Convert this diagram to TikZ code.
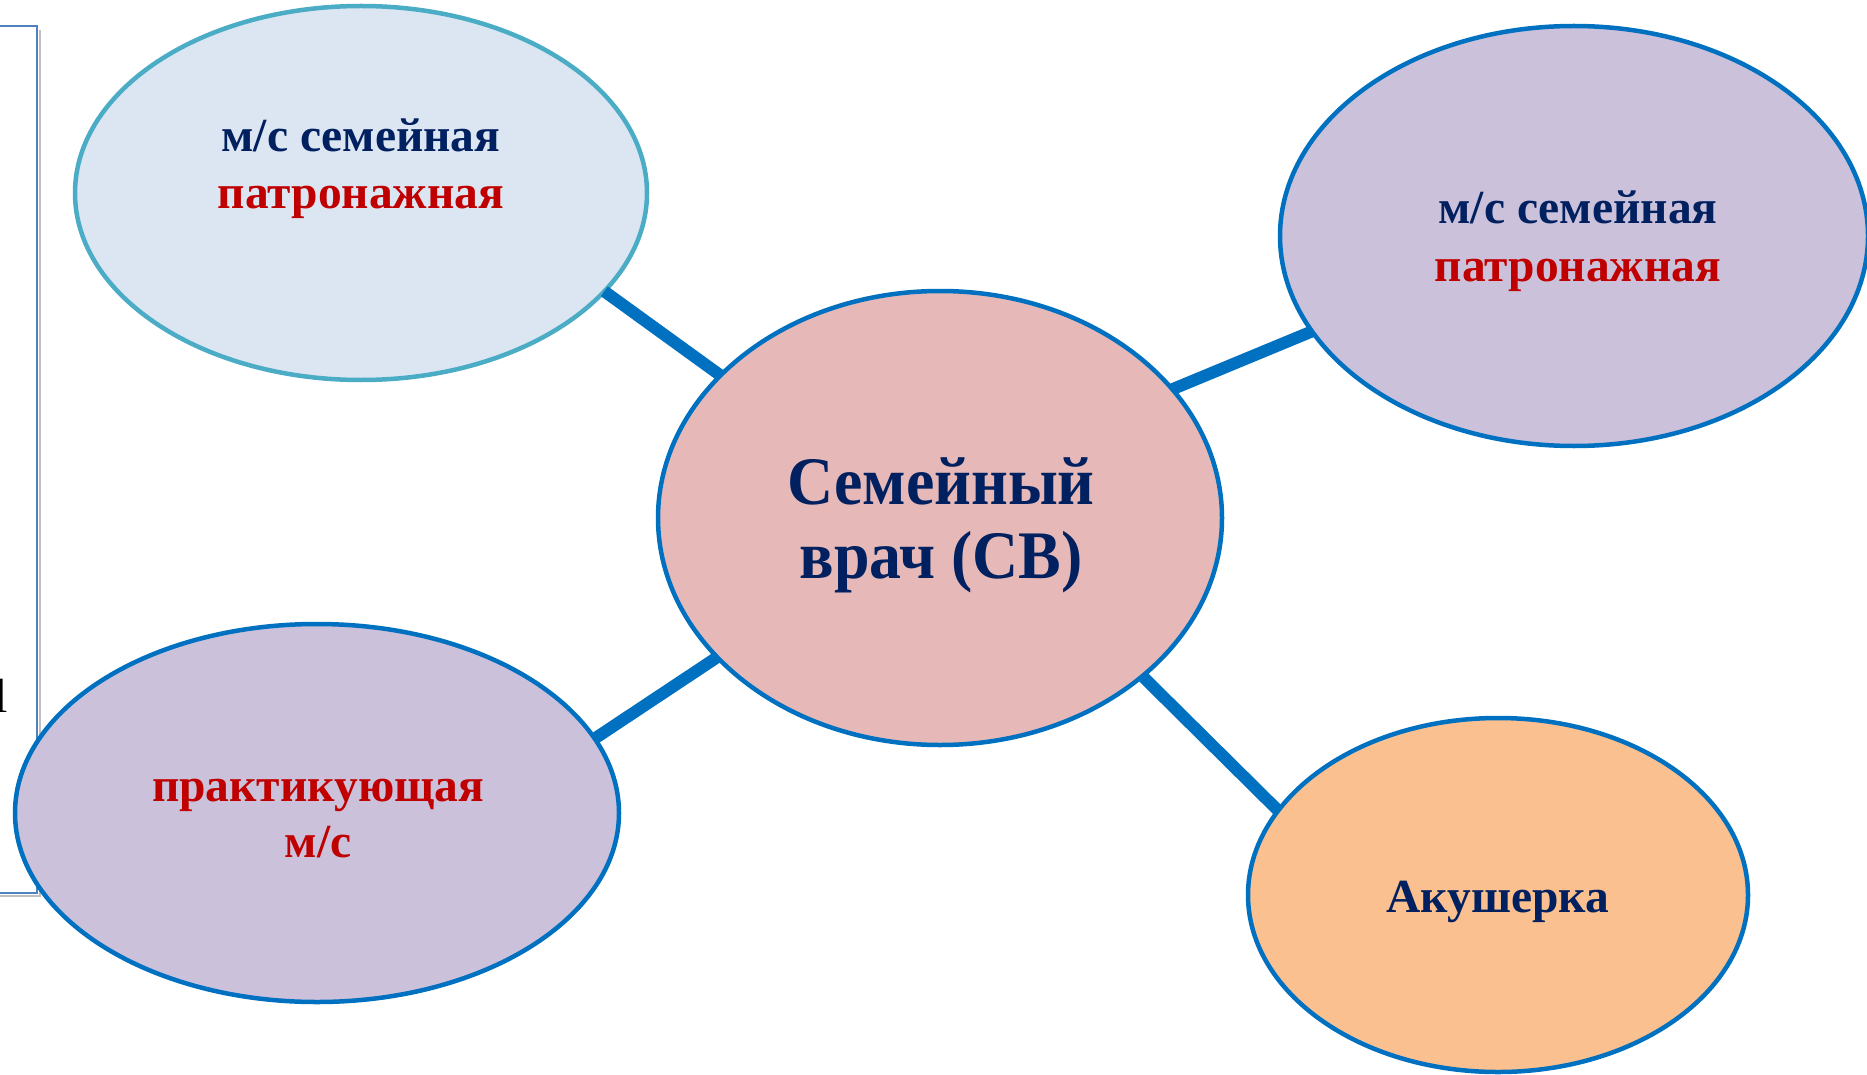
\documentclass[tikz,border=0pt]{standalone}
\usepackage{fontspec}
\usepackage{graphicx}
\setmainfont{Liberation Serif}
\usetikzlibrary{shapes.geometric}
\definecolor{navy}{HTML}{002060}
\definecolor{redt}{HTML}{C00000}
\definecolor{bord}{HTML}{0070C0}
\definecolor{tealb}{HTML}{4BACC6}
\definecolor{lblue}{HTML}{DCE6F2}
\definecolor{pinkf}{HTML}{E6B9B8}
\definecolor{lilac}{HTML}{CCC1DA}
\definecolor{peach}{HTML}{FAC090}
\definecolor{rectc}{HTML}{4F81BD}
\begin{document}
\begin{tikzpicture}[x=1pt,y=-1pt,
  bub/.style={ellipse, draw=bord, line width=4.5pt, inner sep=0pt, outer sep=0pt},
  link/.style={draw=bord, line width=12pt},
  small/.style={font=\fontsize{47.5}{54}\selectfont\bfseries, anchor=base, inner sep=0pt},
  big/.style={font=\fontsize{68}{80}\selectfont\bfseries, anchor=base, inner sep=0pt, text=navy}]
\useasboundingbox (0,0) rectangle (1867,1075);
\fill[white] (0,0) rectangle (1867,1075);
% frame at the left edge
\draw[black!25, line width=2pt] (40,30) -- (40,896) -- (-5,896);
\draw[rectc, line width=1.5pt] (-5,26) -- (37,26) -- (37,893) -- (-5,893);
\begin{scope}
\clip (0,0) rectangle (36,1075);
\node[font=\fontsize{48}{48}\selectfont, anchor=base, inner sep=0pt] (frag) at (1,712) {l};
\end{scope}
% bubbles
\node[bub, draw=tealb, fill=lblue, minimum width=572pt, minimum height=374pt] (tl) at (361,193) {};
\node[bub, fill=pinkf, minimum width=564pt, minimum height=454pt] (c) at (940,518) {};
\node[bub, fill=lilac, minimum width=588pt, minimum height=420pt] (tr) at (1574,236) {};
\node[bub, fill=lilac, minimum width=604pt, minimum height=378pt] (bl) at (317,813) {};
\node[bub, fill=peach, minimum width=500pt, minimum height=354pt] (br) at (1498,895) {};
% connectors
\draw[link] (tl.-22) -- (c.147);
\draw[link] (c.29) -- (tr.200);
\draw[link] (bl.15) -- (c.212);
\draw[link] (c.-38) -- (br.159);
% texts
\node[small, text=navy] (tl1) at (361,152) {м/с семейная};
\node[small, text=redt] (tl2) at (361,209) {патронажная};
\node[small, text=navy] (tr1) at (1578,224) {м/с семейная};
\node[small, text=redt] (tr2) at (1578,281) {патронажная};
\node[small, text=redt] (bl1) at (318,801) {практикующая};
\node[small, text=redt] (bl2) at (318,857) {м/с};
\node[small, text=navy] (br1) at (1498,912) {Акушерка};
\node[big] (c1) at (941,504) {\scalebox{0.94}[1]{Семейный}};
\node[big] (c2) at (941,578) {\scalebox{0.94}[1]{врач (СВ)}};
\end{tikzpicture}
\end{document}
